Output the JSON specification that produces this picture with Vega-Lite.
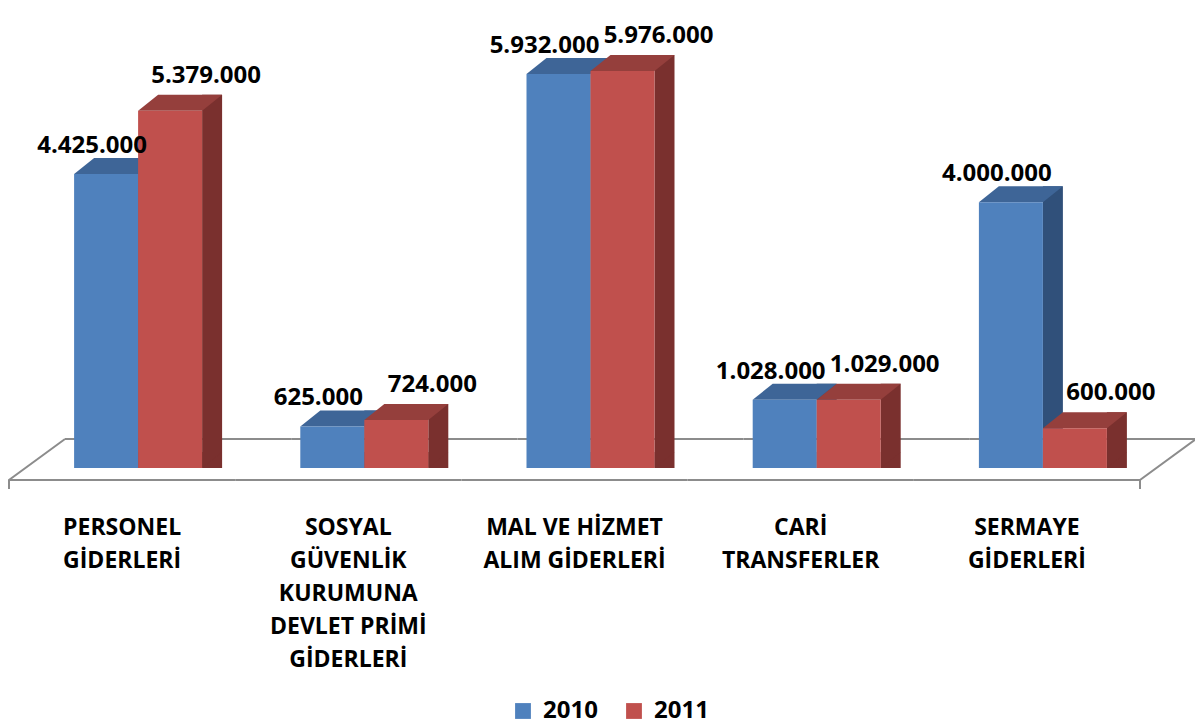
{
  "$schema": "https://vega.github.io/schema/vega-lite/v6.json",
  "autosize": "none",
  "width": 1131,
  "height": 465,
  "padding": {"left": 9, "top": 3, "right": 55, "bottom": 260},
  "background": "white",
  "config": {
    "view": {"stroke": null},
    "locale": {"number": {"decimal": ",", "thousands": ".", "grouping": [3], "currency": ["", " TL"]}}
  },
  "data": {
    "values": [
      {"cat": "PERSONEL\nGİDERLERİ", "year": "2010", "value": 4425000},
      {"cat": "PERSONEL\nGİDERLERİ", "year": "2011", "value": 5379000},
      {"cat": "SOSYAL\nGÜVENLİK\nKURUMUNA\nDEVLET PRİMİ\nGİDERLERİ", "year": "2010", "value": 625000},
      {"cat": "SOSYAL\nGÜVENLİK\nKURUMUNA\nDEVLET PRİMİ\nGİDERLERİ", "year": "2011", "value": 724000},
      {"cat": "MAL VE HİZMET\nALIM GİDERLERİ", "year": "2010", "value": 5932000},
      {"cat": "MAL VE HİZMET\nALIM GİDERLERİ", "year": "2011", "value": 5976000},
      {"cat": "CARİ\nTRANSFERLER", "year": "2010", "value": 1028000},
      {"cat": "CARİ\nTRANSFERLER", "year": "2011", "value": 1029000},
      {"cat": "SERMAYE\nGİDERLERİ", "year": "2010", "value": 4000000},
      {"cat": "SERMAYE\nGİDERLERİ", "year": "2011", "value": 600000}
    ]
  },
  "encoding": {
    "x": {
      "field": "cat", "type": "nominal", "sort": null,
      "scale": {"type": "band", "paddingInner": 0, "paddingOuter": 0},
      "axis": {
        "title": null, "domain": false, "ticks": false, "labelAngle": 0,
        "labelFont": "Open Sans", "labelFontSize": 23, "labelFontWeight": "bold",
        "labelColor": "black", "labelLineHeight": 33, "labelPadding": 48,
        "labelBaseline": "top", "labelLimit": 400, "labelOverlap": false, "labelBound": false,
        "labelExpr": "split(datum.label, '\\n')"
      }
    },
    "y": {"field": "value", "type": "quantitative", "stack": null, "scale": {"domain": [0, 7000000]}, "axis": null}
  },
  "layer": [
    {
      "transform": [{"filter": "datum.year == '2010'"}],
      "mark": {"type": "bar", "width": {"band": 1}, "yOffset": 11, "y2Offset": 13, "color": "#8c8c8c"},
      "encoding": {"y": {"datum": 0, "type": "quantitative"}, "y2": {"datum": 0}}
    },
    {
      "transform": [{"filter": "datum.year == '2010'"}],
      "mark": {"type": "bar", "width": {"band": 1}, "xOffset": 56, "yOffset": -30, "y2Offset": -28, "color": "#8c8c8c"},
      "encoding": {"y": {"datum": 0, "type": "quantitative"}, "y2": {"datum": 0}}
    },
    {
      "transform": [{"filter": "datum.year == '2010' && indexof(datum.cat, 'PERSONEL') == 0"}],
      "mark": {"type": "point", "shape": "M0 21 L0 12 L56 -29", "size": 4, "filled": false, "opacity": 1, "stroke": "#8c8c8c", "strokeWidth": 2},
      "encoding": {"x": {"field": "cat", "type": "nominal", "bandPosition": 0}, "y": {"datum": 0, "type": "quantitative"}}
    },
    {
      "transform": [{"filter": "datum.year == '2010' && indexof(datum.cat, 'SERMAYE') == 0"}],
      "mark": {"type": "point", "shape": "M0 21 L0 12 L56 -29", "size": 4, "filled": false, "opacity": 1, "stroke": "#8c8c8c", "strokeWidth": 2},
      "encoding": {"x": {"field": "cat", "type": "nominal", "bandPosition": 1}, "y": {"datum": 0, "type": "quantitative"}}
    },
    {
      "transform": [{"filter": "datum.year == '2010'"}],
      "mark": {"type": "bar", "width": 20, "xOffset": 26, "yOffset": -16, "y2Offset": -16, "color": "#30507A"}
    },
    {
      "transform": [{"filter": "datum.year == '2010'"}],
      "mark": {"type": "point", "shape": "M0 0 L20 -16 L0 -16 Z", "size": 4, "filled": true, "opacity": 1, "strokeWidth": 0, "color": "#30507A", "xOffset": 16},
      "encoding": {"y": {"datum": 0, "type": "quantitative"}}
    },
    {
      "transform": [{"filter": "datum.year == '2010'"}],
      "mark": {"type": "point", "shape": "M0 0 L64 0 L84 -16 L20 -16 Z", "size": 4, "filled": true, "opacity": 1, "strokeWidth": 0, "color": "#3E6597", "xOffset": -48}
    },
    {
      "transform": [{"filter": "datum.year == '2010'"}],
      "mark": {"type": "bar", "width": 64, "xOffset": -16},
      "encoding": {
        "color": {
          "field": "year", "type": "nominal",
          "scale": {"domain": ["2010", "2011"], "range": ["#4F81BD", "#C0504D"]},
          "legend": {
            "title": null, "orient": "none", "legendX": 502, "legendY": 696,
            "direction": "horizontal", "symbolType": "square", "symbolSize": 250,
            "symbolStrokeWidth": 0, "symbolOpacity": 1,
            "labelFont": "Open Sans", "labelFontSize": 24, "labelFontWeight": "bold",
            "labelColor": "black", "labelOffset": 8, "columnPadding": 24, "padding": 0
          }
        }
      }
    },
    {
      "transform": [{"filter": "datum.year == '2011'"}],
      "mark": {"type": "bar", "width": 20, "xOffset": 90, "yOffset": -16, "y2Offset": -16, "color": "#7A302E"}
    },
    {
      "transform": [{"filter": "datum.year == '2011'"}],
      "mark": {"type": "point", "shape": "M0 0 L20 -16 L0 -16 Z", "size": 4, "filled": true, "opacity": 1, "strokeWidth": 0, "color": "#7A302E", "xOffset": 80},
      "encoding": {"y": {"datum": 0, "type": "quantitative"}}
    },
    {
      "transform": [{"filter": "datum.year == '2011'"}],
      "mark": {"type": "point", "shape": "M0 0 L64 0 L84 -16 L20 -16 Z", "size": 4, "filled": true, "opacity": 1, "strokeWidth": 0, "color": "#953F3C", "xOffset": 16}
    },
    {
      "transform": [{"filter": "datum.year == '2011'"}],
      "mark": {"type": "bar", "width": 64, "xOffset": 48},
      "encoding": {"color": {"field": "year", "type": "nominal"}}
    },
    {
      "transform": [{"filter": "datum.year == '2010'"}],
      "mark": {"type": "text", "font": "Open Sans", "fontSize": 24, "fontWeight": "bold", "baseline": "alphabetic", "align": "center", "xOffset": -30, "dy": -21, "color": "black"},
      "encoding": {"text": {"field": "value", "type": "quantitative", "format": ","}}
    },
    {
      "transform": [{"filter": "datum.year == '2011'"}],
      "mark": {"type": "text", "font": "Open Sans", "fontSize": 24, "fontWeight": "bold", "baseline": "alphabetic", "align": "center", "xOffset": 84, "dy": -28, "color": "black"},
      "encoding": {"text": {"field": "value", "type": "quantitative", "format": ","}}
    }
  ]
}
